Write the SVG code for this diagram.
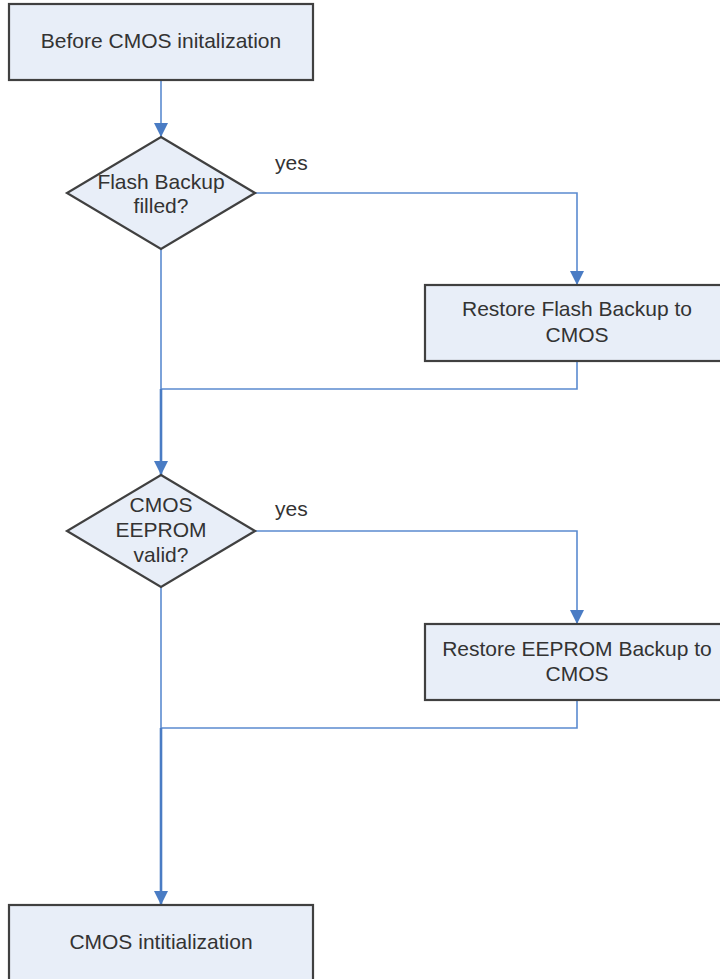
<svg xmlns="http://www.w3.org/2000/svg" width="720" height="979" viewBox="0 0 720 979">
<defs>
<style>
.node{fill:#E8EEF8;stroke:#404040;stroke-width:2.2}
.t{font-family:"Liberation Sans",Arial,sans-serif;font-size:21px;fill:#333;text-anchor:middle}
.lbl{font-family:"Liberation Sans",Arial,sans-serif;font-size:21px;fill:#333}
.c{fill:none;stroke:#5B8BD0;stroke-width:1.6}
.m{fill:none;stroke:#4A7CC4;stroke-width:2.6}
</style>
<marker id="arr" markerWidth="14" markerHeight="14" viewBox="0 0 14 14" refX="14" refY="7" orient="auto" markerUnits="userSpaceOnUse">
<path d="M0,0 L14,7 L0,14 Z" fill="#4A7CC4"/>
</marker>
</defs>
<rect width="720" height="979" fill="#fff"/>
<g id="connectors">
<path class="c" d="M161,80 V137" marker-end="url(#arr)"/>
<path class="c" d="M255,193 H577 V285" marker-end="url(#arr)"/>
<path class="c" d="M161,249 V389"/>
<path class="c" d="M577,361 V389 H161"/>
<path class="m" d="M161,389 V475" marker-end="url(#arr)"/>
<path class="c" d="M255,531 H577 V624" marker-end="url(#arr)"/>
<path class="c" d="M161,587 V728"/>
<path class="c" d="M577,700 V728 H161"/>
<path class="m" d="M161,728 V905" marker-end="url(#arr)"/>
<text class="lbl" x="275" y="170">yes</text>
<text class="lbl" x="275" y="516">yes</text>
</g>
<g id="start">
<rect class="node" x="9" y="4" width="304" height="76"/>
<text class="t" x="161" y="48">Before CMOS initalization</text>
</g>
<g id="flash_check">
<polygon class="node" points="161,137 255,193 161,249 67,193"/>
<text class="t" x="161" y="189">Flash Backup</text>
<text class="t" x="161" y="213">filled?</text>
</g>
<g id="restore_flash">
<rect class="node" x="425" y="285" width="304" height="76"/>
<text class="t" x="577" y="316">Restore Flash Backup to</text>
<text class="t" x="577" y="342">CMOS</text>
</g>
<g id="eeprom_check">
<polygon class="node" points="161,475 255,531 161,587 67,531"/>
<text class="t" x="161" y="512">CMOS</text>
<text class="t" x="161" y="537">EEPROM</text>
<text class="t" x="161" y="562">valid?</text>
</g>
<g id="restore_eeprom">
<rect class="node" x="425" y="624" width="304" height="76"/>
<text class="t" x="577" y="656">Restore EEPROM Backup to</text>
<text class="t" x="577" y="681">CMOS</text>
</g>
<g id="cmos_init">
<rect class="node" x="9" y="905" width="304" height="80"/>
<text class="t" x="161" y="949">CMOS intitialization</text>
</g>
</svg>
